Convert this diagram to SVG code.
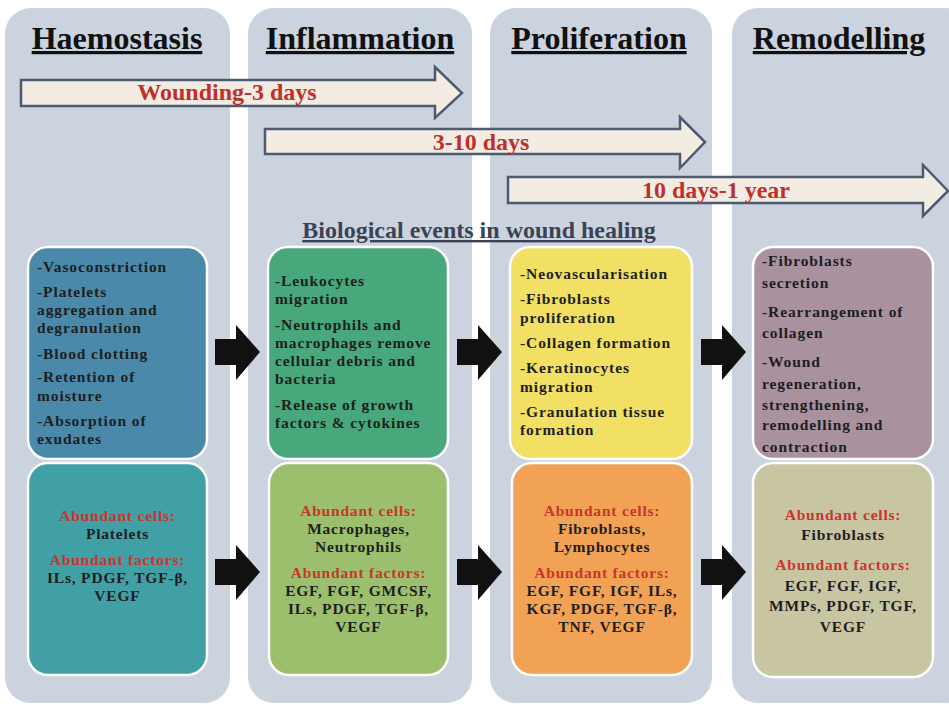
<svg xmlns="http://www.w3.org/2000/svg" width="949" height="705" viewBox="0 0 949 705">
<defs>
<style>
.col{fill:#CBD3DE}
.hdr{font-family:"Liberation Serif","Times New Roman",serif;font-weight:bold;font-size:32px;fill:#111;text-anchor:middle;text-decoration:underline}
.tl{fill:#F2ECE3;stroke:#4E5A72;stroke-width:2.5;stroke-linejoin:miter}
.tlt{font-family:"Liberation Serif","Times New Roman",serif;font-weight:bold;font-size:24px;fill:#C0302A;text-anchor:middle}
.sub{font-family:"Liberation Serif","Times New Roman",serif;font-weight:bold;font-size:24px;fill:#3C4256;text-anchor:middle;text-decoration:underline}
.box{stroke:#FFFFFF;stroke-width:2.5}
.bt{font-family:"Liberation Serif","Times New Roman",serif;font-weight:bold;font-size:15.5px;fill:#1E1E1E;letter-spacing:0.9px}
.ct{font-family:"Liberation Serif","Times New Roman",serif;font-weight:bold;font-size:15.5px;fill:#1E1E1E;text-anchor:middle;letter-spacing:0.8px}
.red{fill:#C8362F}
.blk{fill:#111111}
</style>
</defs>
<rect width="949" height="705" fill="#FFFFFF"/>

<g id="col-haemostasis">
<rect class="col" x="5" y="8" width="225" height="695" rx="26"/>
<text class="hdr" x="117" y="49">Haemostasis</text>
</g>
<g id="col-inflammation">
<rect class="col" x="248" y="8" width="224" height="695" rx="26"/>
<text class="hdr" x="360" y="49">Inflammation</text>
</g>
<g id="col-proliferation">
<rect class="col" x="490" y="8" width="222" height="695" rx="26"/>
<text class="hdr" x="599" y="49">Proliferation</text>
</g>
<g id="col-remodelling">
<rect class="col" x="732" y="8" width="240" height="695" rx="26"/>
<text class="hdr" x="839" y="49">Remodelling</text>
</g>

<g id="timeline-1">
<path class="tl" d="M21,80 H435 V67 L462,93 L435,118 V106 H21 Z"/>
<text class="tlt" x="227" y="100">Wounding-3 days</text>
</g>
<g id="timeline-2">
<path class="tl" d="M265,129 H680 V117 L705,142 L680,168 V154 H265 Z"/>
<text class="tlt" x="481" y="150">3-10 days</text>
</g>
<g id="timeline-3">
<path class="tl" d="M508,177 H923 V165 L948,191 L923,216 V203 H508 Z"/>
<text class="tlt" x="716" y="198">10 days-1 year</text>
</g>

<g id="title">
<text class="sub" x="479" y="238">Biological events in wound healing</text>
</g>

<g id="events-haemostasis">
<rect class="box" x="28" y="247" width="179" height="212" rx="20" fill="#4A89A9"/>
<text class="bt" x="37" y="272">-Vasoconstriction</text>
<text class="bt" x="37" y="297">-Platelets</text>
<text class="bt" x="37" y="315">aggregation and</text>
<text class="bt" x="37" y="333">degranulation</text>
<text class="bt" x="37" y="359">-Blood clotting</text>
<text class="bt" x="37" y="382">-Retention of</text>
<text class="bt" x="37" y="401">moisture</text>
<text class="bt" x="37" y="426">-Absorption of</text>
<text class="bt" x="37" y="444">exudates</text>
</g>
<g id="events-inflammation">
<rect class="box" x="268" y="247" width="180" height="212" rx="20" fill="#48A77B"/>
<text class="bt" x="275" y="286">-Leukocytes</text>
<text class="bt" x="275" y="304">migration</text>
<text class="bt" x="275" y="330">-Neutrophils and</text>
<text class="bt" x="275" y="348">macrophages remove</text>
<text class="bt" x="275" y="366">cellular debris and</text>
<text class="bt" x="275" y="384">bacteria</text>
<text class="bt" x="275" y="410">-Release of growth</text>
<text class="bt" x="275" y="428">factors &amp; cytokines</text>
</g>
<g id="events-proliferation">
<rect class="box" x="510" y="247" width="182" height="212" rx="20" fill="#F1E063"/>
<text class="bt" x="520" y="279">-Neovascularisation</text>
<text class="bt" x="520" y="304">-Fibroblasts</text>
<text class="bt" x="520" y="323">proliferation</text>
<text class="bt" x="520" y="348">-Collagen formation</text>
<text class="bt" x="520" y="373">-Keratinocytes</text>
<text class="bt" x="520" y="392">migration</text>
<text class="bt" x="520" y="417">-Granulation tissue</text>
<text class="bt" x="520" y="435">formation</text>
</g>
<g id="events-remodelling">
<rect class="box" x="753" y="247" width="180" height="212" rx="20" fill="#A9919F"/>
<text class="bt" x="762" y="266">-Fibroblasts</text>
<text class="bt" x="762" y="288">secretion</text>
<text class="bt" x="762" y="317">-Rearrangement of</text>
<text class="bt" x="762" y="338">collagen</text>
<text class="bt" x="762" y="367">-Wound</text>
<text class="bt" x="762" y="389">regeneration,</text>
<text class="bt" x="762" y="410">strengthening,</text>
<text class="bt" x="762" y="430">remodelling and</text>
<text class="bt" x="762" y="452">contraction</text>
</g>

<g id="factors-haemostasis">
<rect class="box" x="28" y="463" width="179" height="212" rx="20" fill="#41A0A6"/>
<text class="ct red" x="117.5" y="521">Abundant cells:</text>
<text class="ct" x="117.5" y="539">Platelets</text>
<text class="ct red" x="117.5" y="565">Abundant factors:</text>
<text class="ct" x="117.5" y="583">ILs, PDGF, TGF-β,</text>
<text class="ct" x="117.5" y="601">VEGF</text>
</g>
<g id="factors-inflammation">
<rect class="box" x="269" y="463" width="179" height="212" rx="20" fill="#9BBF6C"/>
<text class="ct red" x="358.5" y="516">Abundant cells:</text>
<text class="ct" x="358.5" y="534">Macrophages,</text>
<text class="ct" x="358.5" y="552">Neutrophils</text>
<text class="ct red" x="358.5" y="578">Abundant factors:</text>
<text class="ct" x="358.5" y="596">EGF, FGF, GMCSF,</text>
<text class="ct" x="358.5" y="614">ILs, PDGF, TGF-β,</text>
<text class="ct" x="358.5" y="632">VEGF</text>
</g>
<g id="factors-proliferation">
<rect class="box" x="512" y="463" width="180" height="212" rx="20" fill="#F2A254"/>
<text class="ct red" x="602" y="516">Abundant cells:</text>
<text class="ct" x="602" y="534">Fibroblasts,</text>
<text class="ct" x="602" y="552">Lymphocytes</text>
<text class="ct red" x="602" y="578">Abundant factors:</text>
<text class="ct" x="602" y="596">EGF, FGF, IGF, ILs,</text>
<text class="ct" x="602" y="614">KGF, PDGF, TGF-β,</text>
<text class="ct" x="602" y="632">TNF, VEGF</text>
</g>
<g id="factors-remodelling">
<rect class="box" x="753" y="463" width="180" height="214" rx="20" fill="#C8C5A3"/>
<text class="ct red" x="843" y="520">Abundant cells:</text>
<text class="ct" x="843" y="540">Fibroblasts</text>
<text class="ct red" x="843" y="570">Abundant factors:</text>
<text class="ct" x="843" y="591">EGF, FGF, IGF,</text>
<text class="ct" x="843" y="611">MMPs, PDGF, TGF,</text>
<text class="ct" x="843" y="632">VEGF</text>
</g>

<g id="connectors">
<path class="blk" d="M215,339 H236 V325 L260,352 L236,380 V365 H215 Z"/>
<path class="blk" d="M457,339 H478 V325 L502,352 L478,380 V365 H457 Z"/>
<path class="blk" d="M701,339 H722 V325 L746,352 L722,380 V365 H701 Z"/>
<path class="blk" d="M215,559 H236 V545 L260,572 L236,600 V585 H215 Z"/>
<path class="blk" d="M457,559 H478 V545 L502,572 L478,600 V585 H457 Z"/>
<path class="blk" d="M701,559 H722 V545 L746,572 L722,600 V585 H701 Z"/>
</g>
</svg>
